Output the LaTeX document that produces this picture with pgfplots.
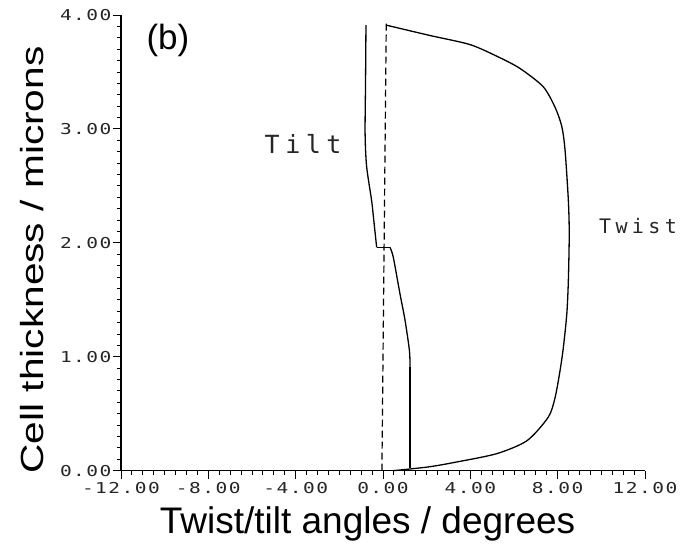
\documentclass[border=0pt]{standalone}
\usepackage{fontspec}
\setmainfont{Liberation Sans}
\newfontfamily\plotfont[LetterSpace=22,Numbers=SlashedZero]{DejaVu Sans Mono}
\newfontfamily\tickfont[FakeStretch=1.3,LetterSpace=10,Numbers=SlashedZero]{DejaVu Sans Mono}
\newfontfamily\tallfont[FakeStretch=1.27]{Liberation Sans}
\usepackage{pgfplots}
\pgfplotsset{compat=1.18}

\begin{document}
\begin{tikzpicture}
\begin{axis}[
  name=ax,
  scale only axis,
  width=524bp, height=455.7bp,
  xmin=-12, xmax=12, ymin=0, ymax=4,
  axis x line*=bottom, axis y line*=left,
  axis line style={-, line width=1.1bp},
  xtick={-12,-8,...,12},
  xticklabels={-12.00,-8.00,-4.00,0.00,4.00,8.00,12.00},
  ytick={0,1,2,3,4},
  yticklabels={0.00,1.00,2.00,3.00,4.00},
  minor x tick num=7, minor y tick num=9,
  tick align=outside,
  major tick length=8bp, minor tick length=4bp,
  tick style={line width=0.9bp, black},
  ticklabel style={font=\tickfont\fontsize{15bp}{15bp}\selectfont, text=black!85},
  yticklabel style={xshift=2bp},
  clip=false,
]
% reference line at zero twist/tilt
\addplot[black, line width=1.2bp, dash pattern=on 7bp off 4bp] coordinates {(-0.05,0) (0.15,3.93)};

% twist profile
\addplot[black, line width=1.3bp, smooth, tension=0.45] coordinates {
  (0.17,3.91) (2.15,3.82) (3.99,3.74) (5.3,3.63) (6.28,3.53) (7.34,3.37)
  (7.88,3.19) (8.19,3.02) (8.34,2.81) (8.49,2.37) (8.53,2.08) (8.49,1.67)
  (8.42,1.38) (8.26,1.08) (8.11,0.88) (7.88,0.64) (7.57,0.47) (6.6,0.264)
  (5.2,0.149) (3.2,0.07) (2.15,0.035) (1.24,0.015) (0.46,0.0)
};

% tilt profile, upper half
\addplot[black, line width=1.3bp, smooth, tension=0.45] coordinates {
  (-0.78,3.91) (-0.80,3.40) (-0.82,2.96) (-0.75,2.67) (-0.52,2.37) (-0.44,2.23)
  (-0.29,1.96)
};
% step at mid-cell
\addplot[black, line width=1.3bp] coordinates {(-0.29,1.96) (0.32,1.96)};
% tilt profile, lower half
\addplot[black, line width=1.3bp, smooth, tension=0.45] coordinates {
  (0.32,1.96) (0.47,1.875) (0.78,1.55) (1.01,1.32) (1.21,1.055) (1.24,0.91)
};
\addplot[black, line width=1.3bp] coordinates {(1.24,0.91) (1.24,0.02)};

\node[font=\fontsize{35bp}{35bp}\selectfont] at (axis cs:-9.85,3.78) {(b)};
\node[font=\plotfont\fontsize{25bp}{25bp}\selectfont, text=black!85] at (axis cs:-3.66,2.87) {Tilt};
\node[font=\plotfont\fontsize{20bp}{20bp}\selectfont, text=black!85] at (axis cs:11.68,2.15) {Twist};

\node[anchor=base, font=\fontsize{37bp}{37bp}\selectfont] at (axis cs:-0.71,-0.547) {Twist/tilt angles / degrees};
\node[anchor=base, rotate=90, font=\tallfont\fontsize{32bp}{32bp}\selectfont] at (axis cs:-15.56,1.85) {Cell thickness / microns};
\end{axis}
\pgfresetboundingbox
\path ([shift={(-121bp,-77.3bp)}]ax.south west) rectangle ([shift={(42bp,15bp)}]ax.north east);
\end{tikzpicture}
\end{document}
